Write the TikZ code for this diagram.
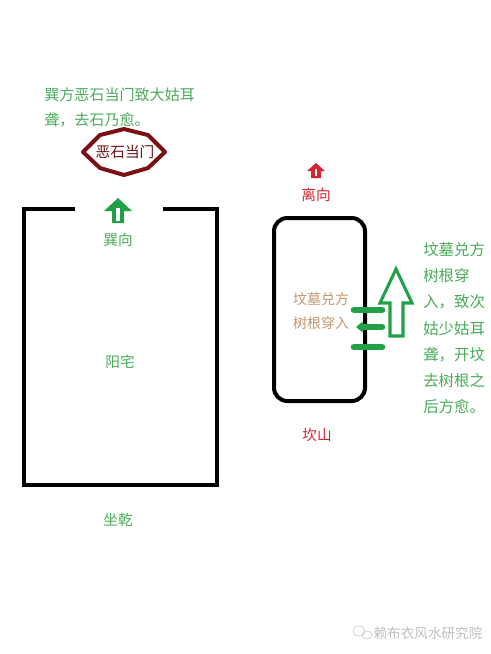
\documentclass[tikz,border=0pt]{standalone}
\usepackage{fontspec}
\newfontfamily\cjk{Noto Sans CJK SC}
\usepackage{tikz}
\usetikzlibrary{arrows.meta,positioning}
\definecolor{fsgreen}{RGB}{72,172,88}
\definecolor{fsarrow}{RGB}{34,160,72}
\definecolor{fsred}{RGB}{215,35,45}
\definecolor{fsmaroon}{RGB}{122,16,22}
\definecolor{fstan}{RGB}{196,150,112}
\tikzset{
	note/.style      = {font=\cjk\fontsize{11.3}{18.9}\selectfont, text=fsgreen,
		inner sep=0pt, align=left, anchor=north west},
	greenlabel/.style = {font=\cjk\fontsize{11}{13}\selectfont, text=fsgreen, inner sep=0pt},
	redlabel/.style  = {font=\cjk\fontsize{11}{13}\selectfont, text=fsred, inner sep=0pt},
	tanlabel/.style  = {font=\cjk\fontsize{10.5}{18}\selectfont, text=fstan,
		inner sep=0pt, align=left},
	stonetext/.style = {font=\cjk\fontsize{11}{13}\selectfont, text=fsmaroon!85!black, inner sep=0pt},
	wall/.style      = {draw, line width=3pt},
	stone/.style     = {draw=fsmaroon, line width=3pt, line join=round},
	rootline/.style  = {draw=fsarrow, line width=5pt, line cap=round},
	hollow/.style    = {draw=fsarrow, line width=2.3pt, line join=miter}
}
\begin{document}
\begin{tikzpicture}[x=0.75pt, y=-0.75pt]
	\useasboundingbox (0,0) rectangle (490,654);
	% note at the top
	\node [note] (topnote) at (44,87) {巽方恶石当门致大姑耳\\聋，去石乃愈。};
	% the stone in front of the gate
	\draw [stone] (83,152) -- (100,135) -- (124,129) -- (148,135) -- (165,152)
		-- (148,168) -- (124,175) -- (100,168) -- cycle;
	\node [stonetext] (stone) at (125,152) {恶石当门};
	% the house
	\draw [wall] (75,209) -- (24,209) -- (24,485) -- (217,485) -- (217,209) -- (163,209);
	\fill [fsarrow] (118,198) -- (132,211) -- (124,211) -- (124,223) -- (112,223)
		-- (112,211) -- (104,211) -- cycle;
	\draw [white, line width=2.4pt] (118,208) -- (118,221);
	\node [greenlabel] (xunxiang) at (118,240) {巽向};
	\node [greenlabel] (house) at (120,362) {阳宅};
	\node [greenlabel] (zuoqian) at (118,520) {坐乾};
	% the grave
	\fill [fsred] (316,163) -- (325,171) -- (321,171) -- (321,178) -- (311,178)
		-- (311,171) -- (307,171) -- cycle;
	\draw [white, line width=1.2pt] (316,169) -- (316,176);
	\node [redlabel] (lixiang) at (316,195) {离向};
	\draw [wall, rounded corners=10pt] (274,218) rectangle (365,401);
	\node [tanlabel] (grave) at (321,311) {坟墓兑方\\树根穿入};
	\node [redlabel] (kanshan) at (317,435) {坎山};
	% roots coming in
	\draw [rootline] (354,310) -- (382,310);
	\draw [rootline, -{Triangle[length=5pt,width=8pt]}] (382,327) -- (356,327);
	\draw [rootline] (354,347) -- (382,347);
	\draw [hollow] (396,269) -- (412,303) -- (403,303) -- (403,336) -- (390,336)
		-- (390,303) -- (380,303) -- cycle;
	\node [note, font=\cjk\fontsize{11.6}{19.7}\selectfont] (rightnote) at (423,242)
		{坟墓兑方\\树根穿\\入，致次\\姑少姑耳\\聋，开坟\\去树根之\\后方愈。};
	% watermark
	\draw [gray!35, line width=0.6pt] (359,631) ellipse (6 and 5);
	\draw [gray!35, line width=0.6pt] (367,635) ellipse (5 and 4);
	\node [font=\cjk\fontsize{10.2}{12}\selectfont, text=gray!50, inner sep=0pt]
		(mark) at (428,633) {赖布衣风水研究院};
\end{tikzpicture}
\end{document}
